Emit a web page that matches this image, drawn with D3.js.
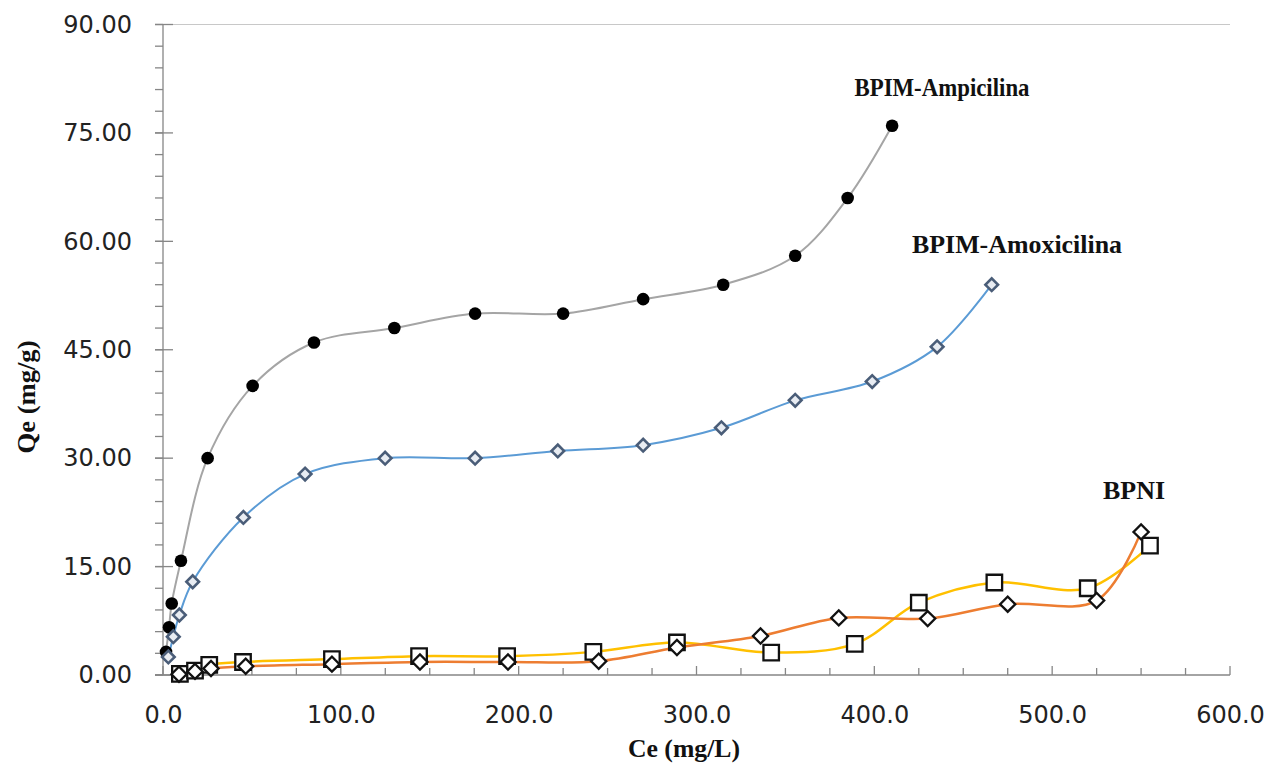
<!DOCTYPE html>
<html lang="en">
<head>
  <meta charset="UTF-8">
  <title>Qe vs Ce</title>
  <script src="https://cdn.jsdelivr.net/npm/d3@7"></script>
  <style>
    body { margin: 0; background: #fff; }
    .axis path { display: none; }
    .axis line { stroke: #868686; }
    .axis text { font-family: 'DejaVu Sans', sans-serif; font-size: 24px; fill: #222; }
    .lbl { font-family: 'Liberation Serif', 'Times New Roman', serif; font-weight: bold; fill: #111; }
  </style>
</head>
<body>
<script>
  // BPIM-Ampicilina
  const ampX = [1.7, 3.4, 4.9, 10.1, 25.1, 50.4, 84.9, 130.1, 175.5, 225, 270, 315, 355.5, 385, 410];
  const ampY = [3.2, 6.6, 9.9, 15.8, 30, 40, 46, 48, 50, 50, 52, 54, 58, 66, 76];
  // BPIM-Amoxicilina
  const amoX = [3.0, 5.8, 9.2, 16.7, 45.2, 79.9, 124.9, 175.5, 222, 270, 314, 355.5, 398.8, 435.3, 466];
  const amoY = [2.5, 5.3, 8.3, 12.9, 21.8, 27.8, 30, 30, 31, 31.8, 34.2, 38, 40.6, 45.4, 54];
  // BPNI (diamonds, orange line)
  const bpnDX = [9, 18, 27, 46.5, 95, 144.5, 194, 245, 289, 336, 380, 430, 475, 525, 550];
  const bpnDY = [0.1, 0.5, 0.9, 1.2, 1.5, 1.8, 1.8, 1.9, 3.8, 5.4, 7.9, 7.8, 9.8, 10.3, 19.8];
  // BPNI (squares, yellow line)
  const bpnSX = [9.5, 18, 26, 45, 95, 144, 193.5, 242, 289, 342, 389, 425, 467.5, 520, 555];
  const bpnSY = [0.15, 0.6, 1.4, 1.8, 2.2, 2.6, 2.6, 3.2, 4.5, 3.1, 4.3, 10.0, 12.8, 12.0, 17.9];

  const yTicks = [0, 15, 30, 45, 60, 75, 90];
  const xTicks = [0, 100, 200, 300, 400, 500, 600];

  const width = 1272, height = 765;
  const svg = d3.select('body').append('svg')
    .attr('width', width)
    .attr('height', height);

  const x = d3.scaleLinear().domain([0, 600]).range([163, 1230]);
  const y = d3.scaleLinear().domain([0, 90]).range([675, 24.5]);

  // frame
  svg.append('line').attr('x1', 155).attr('x2', 1230).attr('y1', y(90)).attr('y2', y(90))
    .attr('stroke', '#c8c8c8').attr('stroke-width', 1);

  // ticks and axis lines
  const g = svg.append('g').attr('stroke', '#868686').attr('stroke-width', 1.3);
  g.selectAll('.ym').data(d3.range(0, 91, 3)).enter().append('line')
    .attr('x1', 155).attr('x2', x(0)).attr('y1', d => y(d)).attr('y2', d => y(d));
  g.selectAll('.yM').data(yTicks).enter().append('line')
    .attr('x1', 155).attr('x2', 173).attr('y1', d => y(d)).attr('y2', d => y(d));
  g.selectAll('.xm').data(d3.range(0, 601, 25)).enter().append('line')
    .attr('x1', d => x(d)).attr('x2', d => x(d))
    .attr('y1', y(0)).attr('y2', d => d % 100 === 0 ? y(0) - 9 : y(0) - 7);
  g.append('line').attr('x1', x(0)).attr('x2', x(0)).attr('y1', y(90)).attr('y2', y(0));
  g.append('line').attr('x1', 155).attr('x2', x(600)).attr('y1', y(0)).attr('y2', y(0));

  // axis labels
  svg.append('g').attr('class', 'axis')
    .attr('transform', `translate(${x(0)},0)`)
    .call(d3.axisLeft(y).tickValues(yTicks).tickSize(0).tickPadding(31).tickFormat(d3.format('.2f')));
  svg.append('g').attr('class', 'axis')
    .attr('transform', `translate(0,${y(0)})`)
    .call(d3.axisBottom(x).tickValues(xTicks).tickSize(0).tickPadding(31).tickFormat(d3.format('.1f')));

  // series
  const curve = d3.curveCatmullRom.alpha(0.5);
  function drawLine(xs, ys, color, w) {
    const pts = xs.map((v, i) => [x(v), y(ys[i])]);
    svg.append('path')
      .attr('d', d3.line().curve(curve)(pts))
      .attr('fill', 'none')
      .attr('stroke', color)
      .attr('stroke-width', w);
  }
  drawLine(ampX, ampY, '#a5a5a5', 2);
  drawLine(amoX, amoY, '#5b9bd5', 2);
  drawLine(bpnSX, bpnSY, '#ffc000', 2.5);
  drawLine(bpnDX, bpnDY, '#ed7d31', 2.5);

  const sq = d3.symbol().type(d3.symbolSquare);

  svg.selectAll('.amp').data(ampX).enter().append('circle')
    .attr('cx', d => x(d)).attr('cy', (d, i) => y(ampY[i])).attr('r', 6.3)
    .attr('fill', '#000');

  svg.selectAll('.amo').data(amoX).enter().append('path')
    .attr('d', sq.size(80)())
    .attr('transform', (d, i) => `translate(${x(d)},${y(amoY[i])}) rotate(45)`)
    .attr('fill', '#e8ecf2').attr('stroke', '#4a5d78').attr('stroke-width', 2.6);

  svg.selectAll('.bs').data(bpnSX).enter().append('path')
    .attr('d', sq.size(240)())
    .attr('transform', (d, i) => `translate(${x(d)},${y(bpnSY[i])})`)
    .attr('fill', '#fff').attr('stroke', '#111').attr('stroke-width', 2.3);

  svg.selectAll('.bd').data(bpnDX).enter().append('path')
    .attr('d', sq.size(115)())
    .attr('transform', (d, i) => `translate(${x(d)},${y(bpnDY[i])}) rotate(45)`)
    .attr('fill', '#fff').attr('stroke', '#111').attr('stroke-width', 2.3);

  // text labels
  function label(txt, cx, cy, len, rot) {
    svg.append('text').attr('class', 'lbl')
      .attr('transform', `translate(${cx},${cy})` + (rot ? ` rotate(${rot})` : ''))
      .attr('text-anchor', 'middle')
      .attr('font-size', 26)
      .attr('textLength', len)
      .attr('lengthAdjust', 'spacingAndGlyphs')
      .text(txt);
  }
  label('BPIM-Ampicilina', 942, 96, 175);
  label('BPIM-Amoxicilina', 1017, 253, 210);
  label('BPNI', 1134, 499, 62);
  label('Ce (mg/L)', 684, 757, 112);
  label('Qe (mg/g)', 35, 397, 113, -90);
</script>
</body>
</html>
